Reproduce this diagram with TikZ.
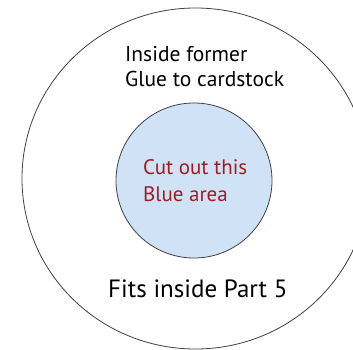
\documentclass[tikz,border=0pt]{standalone}
\usepackage{fontspec}
\setmainfont{PT Sans}
\usetikzlibrary{positioning,shapes.geometric}
\definecolor{cutblue}{HTML}{CFE2F6}
\definecolor{cutred}{HTML}{A31B22}
\definecolor{rimgray}{HTML}{404040}
\begin{document}
\begin{tikzpicture}[
    x=1pt, y=-1pt,
    ring/.style={
        draw=rimgray,
        ellipse,
        line width=0.8pt,
        inner sep=0pt
    },
    note/.style={
        align=left,
        inner sep=0pt,
        anchor=base west
    }
]
\useasboundingbox (0,0) rectangle (353,350);

% Rings
\node[ring, minimum width=347pt, minimum height=341pt] (former) at (195.5,178.5) {};
\node[ring, fill=cutblue, minimum width=156pt, minimum height=155pt] (bluearea) at (194,180.5) {};

% Texts (base anchor sits on the last line)
\node[note, font=\fontsize{21.5}{25}\selectfont] (glue) at (125,87) {Inside former\\Glue to cardstock};
\node[note, font=\fontsize{21}{27}\selectfont, text=cutred] (cutout) at (143,201) {Cut out this\\Blue area};
\node[note, font=\fontsize{25}{25}\selectfont] (fits) at (108,297) {Fits inside Part 5};

\end{tikzpicture}
\end{document}
